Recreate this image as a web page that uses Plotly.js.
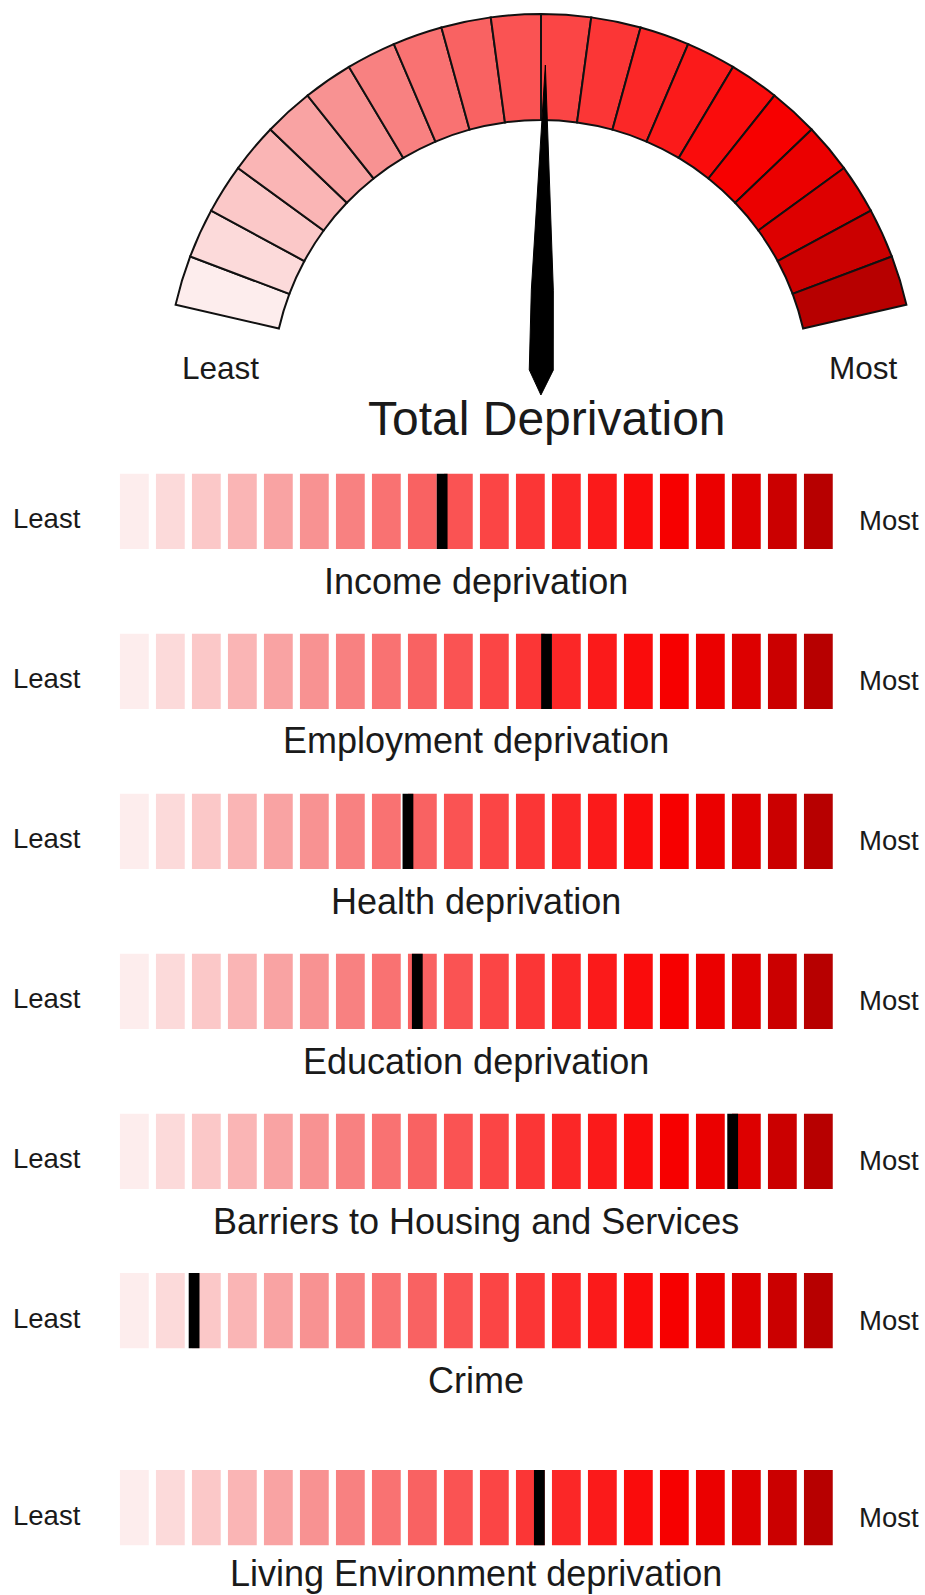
<!DOCTYPE html>
<html><head><meta charset="utf-8">
<script src="https://cdn.plot.ly/plotly-3.0.1.min.js"></script>
<style>html,body{margin:0;padding:0;background:#fff;} #chart{width:925px;height:1595px;}</style>
</head><body><div id="chart"></div>
<script>
// ---------------- data ----------------
const bands = [1,2,3,4,5,6,7,8,9,10,11,12,13,14,15,16,17,18,19,20];
const bandColors = ['#fdeded','#fcdada','#fbc8c8','#fab5b5','#f9a3a3','#f89292','#f88181','#f97272','#f96262','#fa5353',
                    '#fb4545','#fb3636','#fb2727','#fb1a1a','#fa0c0c','#f70000','#eb0000','#dd0000','#cb0000','#b70000'];
const gaugeTitle = 'Total Deprivation';
const gaugeValue = 10.1;            // position on the 0–20 band scale
const domainNames = ['Income deprivation','Employment deprivation','Health deprivation','Education deprivation',
                     'Barriers to Housing and Services','Crime','Living Environment deprivation'];
const domainValues = [9.05, 11.95, 8.1, 8.36, 17.12, 2.16, 11.75];   // position on the 0–20 band scale
const lowLabel = 'Least';
const highLabel = 'Most';

// ---------------- layout constants ----------------
const W = 925, H = 1595;
const FONT = 'Liberation Sans, Arial, Helvetica, sans-serif';
const TXT = '#1a1a1a';
const CX = 541, CY = 389, R_OUT = 375, R_IN = 269, R_RANGE = 380;
const START = 167, SPAN = 154;
const NB = bands.length;
const STEP = SPAN / NB;
const ROW_TOPS = [473.5, 633.5, 793.5, 953.5, 1113.5, 1273, 1470];
const ROW_H = 75.5;
const LABEL_GAP = [32, 32, 32, 32, 32, 32, 28];
const BX0 = 116.35, BX1 = 836.35;

const px = v => v / W;
const py = v => 1 - v / H;

const traces = [];
// gauge segments
traces.push({
  type: 'barpolar',
  theta: bands.map(b => (b - 0.5) * STEP),
  r: bands.map(() => R_OUT - R_IN),
  base: R_IN,
  width: bands.map(() => STEP),
  marker: {color: bandColors, line: {color: '#111', width: 2}},
  subplot: 'polar', hoverinfo: 'skip'
});
// needle
const needleShape = [[324,0],[99,11],[19,12],[-6,0],[19,-12],[99,-11],[324,0]];
const thN = gaugeValue * STEP;
traces.push({
  type: 'scatterpolar', mode: 'lines', fill: 'toself',
  r: needleShape.map(p => Math.hypot(p[0], p[1])),
  theta: needleShape.map(p => thN + Math.atan2(p[1], p[0]) * 180 / Math.PI),
  line: {color: '#000', width: 1}, fillcolor: '#000',
  subplot: 'polar', hoverinfo: 'skip'
});

const layout = {
  width: W, height: H,
  margin: {l: 0, r: 0, t: 0, b: 0},
  paper_bgcolor: '#fff', plot_bgcolor: 'rgba(0,0,0,0)',
  showlegend: false, barmode: 'overlay',
  font: {family: FONT, color: TXT},
  polar: {
    domain: {x: [px(CX - R_RANGE), px(CX + R_RANGE)], y: [py(CY + R_RANGE), py(CY - R_RANGE)]},
    bgcolor: 'rgba(0,0,0,0)',
    radialaxis: {range: [0, R_RANGE], visible: false, showgrid: false, showline: false, ticks: ''},
    angularaxis: {visible: false, rotation: START, direction: 'clockwise', showgrid: false, showline: false, ticks: ''}
  },
  annotations: [
    {text: lowLabel, x: px(220.8), y: py(367.5), font: {size: 31.5}},
    {text: highLabel, x: px(863.5), y: py(367.5), font: {size: 31.5}},
    {text: gaugeTitle, x: px(546.5), y: py(418), font: {size: 48}}
  ]
};

domainNames.forEach((name, k) => {
  const i = k + 1;
  const xa = 'x' + i, ya = 'y' + i;
  const top = ROW_TOPS[k], bot = top + ROW_H, mid = top + ROW_H / 2;
  traces.push({
    type: 'bar', x: bands, y: bands.map(() => 1), width: 0.8,
    marker: {color: bandColors, line: {width: 0}},
    xaxis: xa, yaxis: ya, hoverinfo: 'skip'
  });
  traces.push({
    type: 'bar', x: [domainValues[k] + 0.5], y: [1], width: 0.3,
    marker: {color: '#000', line: {width: 0}},
    xaxis: xa, yaxis: ya, hoverinfo: 'skip'
  });
  layout['xaxis' + i] = {domain: [px(BX0), px(BX1)], range: [0.5, NB + 0.5], anchor: ya, visible: false, fixedrange: true};
  layout['yaxis' + i] = {domain: [py(bot), py(top)], range: [0, 1], anchor: xa, visible: false, fixedrange: true};
  layout.annotations.push({text: lowLabel, x: px(47.3), y: py(mid + 7.5), font: {size: 27.5}});
  layout.annotations.push({text: highLabel, x: px(889.4), y: py(mid + 9.5), font: {size: 27.5}});
  layout.annotations.push({text: name, x: px((BX0 + BX1) / 2), y: py(bot + LABEL_GAP[k]), font: {size: 36}});
});

layout.annotations.forEach(a => {
  a.xref = 'paper'; a.yref = 'paper'; a.showarrow = false;
  a.xanchor = 'center'; a.yanchor = 'middle';
  a.font.family = FONT; a.font.color = TXT;
});

Plotly.newPlot('chart', traces, layout, {staticPlot: true, displayModeBar: false});
</script>
</body></html>
